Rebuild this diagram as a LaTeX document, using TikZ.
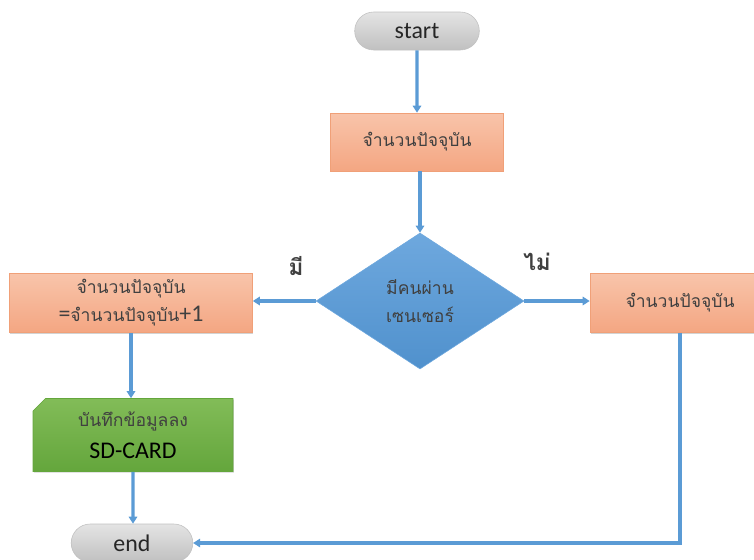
\documentclass[tikz,border=0pt]{standalone}
\usepackage{fontspec}
\setmainfont{Carlito}
\newfontfamily\thaifont[Script=Thai]{Loma}
\usetikzlibrary{shapes.geometric,shapes.misc,arrows.meta,shadows}

\definecolor{linkblue}{RGB}{91,155,213}
\definecolor{salmontop}{RGB}{248,196,170}
\definecolor{salmonbot}{RGB}{244,166,130}
\definecolor{salmonline}{RGB}{240,160,120}
\definecolor{diamtop}{RGB}{110,168,222}
\definecolor{diambot}{RGB}{80,145,205}
\definecolor{greentop}{RGB}{130,188,88}
\definecolor{greenbot}{RGB}{100,166,60}
\definecolor{pilltop}{RGB}{228,228,228}
\definecolor{pillbot}{RGB}{192,192,192}
\definecolor{textgray}{RGB}{64,64,64}

\begin{document}
\begin{tikzpicture}[x=0.025cm, y=-0.025cm,
					pill/.style={rounded rectangle, minimum width=134*\px, minimum height=38*\px, top color=pilltop, bottom color=pillbot, draw=pillbot, font=\fontsize{17}{20}\selectfont, text=black!85},
					process/.style={rectangle, top color=salmontop, bottom color=salmonbot, draw=salmonline, drop shadow={shadow xshift=0.6pt, shadow yshift=-0.8pt, opacity=0.35}, font=\thaifont\fontsize{12.5}{20}\selectfont, text=textgray, align=center},
					decision/.style={diamond, aspect=1.5, minimum width=208*\px, minimum height=136*\px, inner sep=0pt, top color=diamtop, bottom color=diambot, draw=diamtop, font=\thaifont\fontsize{12.5}{20}\selectfont, text=textgray, align=center},
					store/.style={chamfered rectangle, chamfered rectangle corners=north west, chamfered rectangle xsep=8*\px, top color=greentop, bottom color=greenbot, draw=greenbot, drop shadow={shadow xshift=0.6pt, shadow yshift=-0.8pt, opacity=0.35}, font=\fontsize{17}{20}\selectfont, align=center},
					link/.style={draw=linkblue, line width=2.2pt, -{Triangle[length=5pt, width=6pt]}},
					answer/.style={font=\thaifont\bfseries\fontsize{16}{18}\selectfont, text=textgray}
				]
				% Parámetros
				\def\px{0.025cm}   % un pixel de la imagen

				\useasboundingbox (0,0) rectangle (754,559);

				% --- Inicio ---
				\node[pill] (start) at (417,31) {start};

				% --- Cantidad actual ---
				\node[process, minimum width=173*\px, minimum height=58*\px] (count) at (417,142) {จำนวนปัจจุบัน};

				% --- Sensor ---
				\node[decision] (sensor) at (420,301) {มีคนผ่าน\\เซนเซอร์};

				% --- Rama si ---
				\node[process, minimum width=243*\px, minimum height=59*\px] (countup) at (131,303)
					{จำนวนปัจจุบัน\\{\normalfont\fontsize{17}{20}\selectfont=}จำนวนปัจจุบัน{\normalfont\fontsize{17}{20}\selectfont+1}};
				\node[store, minimum width=200*\px, minimum height=73*\px, inner sep=0pt] (save) at (133,435)
					{{\thaifont\fontsize{12.5}{20}\selectfont\color{textgray}บันทึกข้อมูลลง}\\[3pt]SD-CARD};

				% --- Rama no ---
				\node[process, minimum width=180*\px, minimum height=59*\px] (keep) at (680,303) {จำนวนปัจจุบัน};

				% --- Fin ---
				\node[pill, minimum width=131*\px] (stop) at (132,543) {end};

				% --- Etiquetas ---
				\node[answer] (yes) at (296,266) {มี};
				\node[answer] (no) at (537,262) {ไม่};

				% --- Conectores ---
				\draw[link] (start) -- (count);
				\draw[link] (count.south -| sensor.north) -- (sensor.north);
				\draw[link] (sensor.west) -- (sensor.west -| countup.east);
				\draw[link] (sensor.east) -- (sensor.east -| keep.west);
				\draw[link] (countup) -- (countup |- save.north);
				\draw[link] (save) -- (save |- stop.north);
				\draw[link] (keep.south) |- (stop.east);

			\end{tikzpicture}
\end{document}
